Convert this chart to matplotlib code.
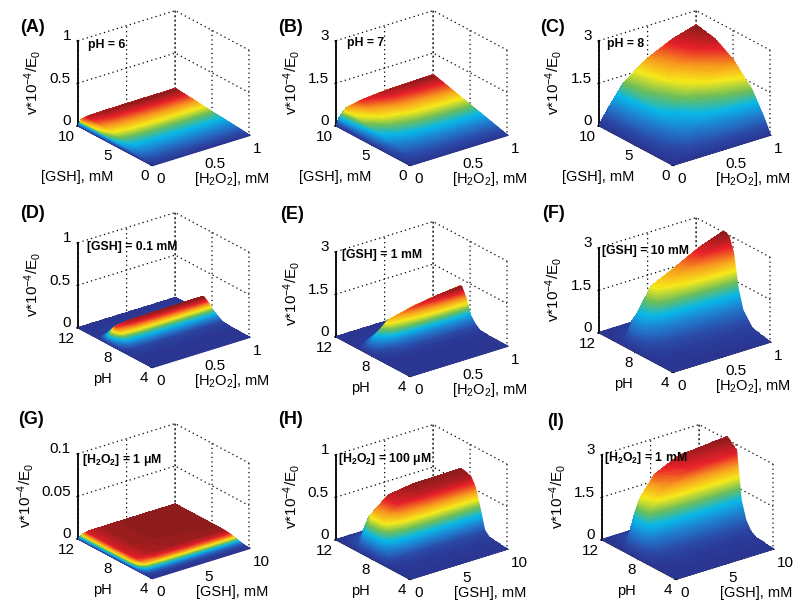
import numpy as np
import matplotlib
matplotlib.use('Agg')
import matplotlib.pyplot as plt
from matplotlib.colors import LinearSegmentedColormap
from mpl_toolkits.mplot3d import proj3d

plt.rcParams['font.family'] = ['Liberation Sans', 'DejaVu Sans']
plt.rcParams['mathtext.default'] = 'regular'

# node positions
h2o2 = [0, .03, .1, .25, .5, .75, 1]
gsh_row = [0, 1, 2.5, 5, 7.5, 10]
gsh_col = [0, .15, .5, 1, 2.5, 5, 10]
ph_a = [4, 6, 7, 7.5, 8, 8.5, 9, 9.5, 10, 12]
ph_g = [4, 4.5, 5, 5.5, 6, 6.5, 7, 9, 12]
ph_h = [4, 6, 6.5, 7, 7.5, 8, 9, 9.5, 10, 12]

z_a = [[0, 0, 0, 0, 0, 0, 0],
       [0, .007, .0087, .0091, .0093, .0094, .0094],
       [0, .016, .0205, .0213, .0218, .022, .022],
       [0, .031, .038, .040, .0405, .041, .041],
       [0, .048, .0595, .062, .0634, .064, .064],
       [0, .064, .079, .0825, .084, .085, .085]]
z_b = [[0, 0, 0, 0, 0, 0, 0],
       [0, .026, .052, .063, .070, .0725, .074],
       [0, .065, .13, .157, .176, .181, .185],
       [0, .13, .26, .315, .35, .363, .37],
       [0, .19, .39, .47, .527, .544, .555],
       [0, .26, .52, .63, .70, .725, .74]]
z_c = [[0, 0, 0, 0, 0, 0, 0],
       [0, .04, .12, .275, .41, .495, .55],
       [0, .09, .275, .60, .88, 1.08, 1.25],
       [0, .14, .42, .93, 1.36, 1.68, 1.95],
       [0, .17, .52, 1.14, 1.68, 2.06, 2.35],
       [0, .18, .55, 1.25, 1.85, 2.25, 2.5]]
z_d = [[0, 0, 0, 0, 0, 0, 0],
       [0, .001, .003, .003, .003, .003, .003],
       [0, .006, .013, .014, .015, .015, .015],
       [0, .02, .042, .047, .049, .05, .05],
       [0, .036, .077, .086, .088, .089, .09],
       [0, .06, .128, .143, .147, .149, .15],
       [0, .076, .162, .18, .186, .188, .19],
       [0, .04, .085, .095, .098, .099, .10],
       [0, .004, .009, .0095, .01, .01, .01],
       [0, 0, 0, 0, 0, 0, 0]]
z_e = [[0, 0, 0, 0, 0, 0, 0],
       [0, .002, .004, .009, .011, .012, .013],
       [0, .005, .013, .026, .032, .035, .038],
       [0, .02, .055, .11, .137, .153, .164],
       [0, .045, .126, .255, .315, .354, .378],
       [0, .108, .30, .61, .756, .85, .907],
       [0, .15, .42, .85, 1.05, 1.18, 1.26],
       [0, .09, .25, .51, .63, .71, .756],
       [0, .012, .034, .068, .084, .094, .10],
       [0, 0, 0, 0, 0, 0, 0]]
z_f = [[0, 0, 0, 0, 0, 0, 0],
       [0, .018, .053, .095, .115, .138, .153],
       [0, .07, .21, .38, .46, .55, .61],
       [0, .147, .44, .80, .966, 1.155, 1.28],
       [0, .28, .84, 1.52, 1.84, 2.2, 2.44],
       [0, .34, 1.02, 1.84, 2.23, 2.67, 2.96],
       [0, .35, 1.05, 1.9, 2.3, 2.75, 3.05],
       [0, .245, .735, 1.33, 1.61, 1.925, 2.135],
       [0, .07, .21, .38, .46, .55, .61],
       [0, 0, 0, 0, 0, 0, 0]]
z_g = [[0, 0, 0, 0, 0, 0, 0],
       [0, .00006, .00012, .00015, .00016, .00016, .000165],
       [0, .00039, .00077, .00099, .00107, .00109, .0011],
       [0, .00096, .00193, .00248, .00267, .00272, .00275],
       [0, .0015, .003, .00387, .00417, .00425, .0043],
       [0, .00177, .00354, .00455, .00491, .00501, .00506],
       [0, .00189, .00377, .00485, .00523, .00534, .00539],
       [0, .00193, .00385, .00495, .00534, .00545, .0055],
       [0, .00193, .00385, .00495, .00534, .00545, .0055]]
z_h = [[0, 0, 0, 0, 0, 0, 0],
       [0, .006, .013, .019, .024, .026, .026],
       [0, .018, .04, .056, .073, .078, .08],
       [0, .072, .158, .226, .293, .312, .317],
       [0, .12, .264, .376, .488, .52, .528],
       [0, .143, .314, .447, .58, .618, .627],
       [0, .15, .33, .47, .61, .65, .66],
       [0, .12, .264, .376, .488, .52, .528],
       [0, .038, .083, .118, .153, .163, .165],
       [0, 0, 0, 0, 0, 0, 0]]
z_i = [[0, 0, 0, 0, 0, 0, 0],
       [0, .01, .03, .055, .077, .089, .093],
       [0, .025, .07, .13, .18, .207, .217],
       [0, .056, .16, .296, .408, .472, .496],
       [0, .126, .36, .666, .918, 1.062, 1.116],
       [0, .315, .9, 1.665, 2.295, 2.655, 2.79],
       [0, .35, 1.0, 1.85, 2.55, 2.95, 3.1],
       [0, .245, .7, 1.295, 1.785, 2.065, 2.17],
       [0, .07, .2, .37, .51, .59, .62],
       [0, 0, 0, 0, 0, 0, 0]]

letters = ['(A)', '(B)', '(C)', '(D)', '(E)', '(F)', '(G)', '(H)', '(I)']
notes = ['pH = 6', 'pH = 7', 'pH = 8',
         '[GSH] = 0.1 mM', '[GSH] = 1 mM', '[GSH] = 10 mM',
         '[H$_2$O$_2$] = 1 \u03bcM', '[H$_2$O$_2$] = 100 \u03bcM', '[H$_2$O$_2$] = 1 mM']
surfaces = [z_a, z_b, z_c, z_d, z_e, z_f, z_g, z_h, z_i]
xnodes = [h2o2] * 6 + [gsh_col] * 3
ynodes = [gsh_row] * 3 + [ph_a] * 3 + [ph_g, ph_h, ph_h]
zticks = [[0, .5, 1], [0, 1.5, 3], [0, 1.5, 3],
          [0, .5, 1], [0, 1.5, 3], [0, 1.5, 3],
          [0, .05, .1], [0, .5, 1], [0, 1.5, 3]]
zticklabels = [['0', '0.5', '1'], ['0', '1.5', '3'], ['0', '1.5', '3'],
               ['0', '0.5', '1'], ['0', '1.5', '3'], ['0', '1.5', '3'],
               ['0', '0.05', '0.1'], ['0', '0.5', '1'], ['0', '1.5', '3']]
xlabels = ['[H$_2$O$_2$], mM'] * 6 + ['[GSH], mM'] * 3
ylabels = ['[GSH], mM'] * 3 + ['pH'] * 6

# pixel positions on the 800x607 page
origins = [(152, 165), (410, 165), (673, 165),
           (152, 367), (410, 376), (673, 372),
           (152, 578), (410, 579), (676, 579)]
letter_pos = [(20, 27), (278, 27), (540, 27),
              (20, 214), (280, 215), (542, 214),
              (18, 420), (278, 420), (547, 421)]
note_pos = [(88, 45), (347, 43), (607, 44),
            (87, 247), (342, 255), (602, 251),
            (82, 460), (338, 459), (604, 458)]

jet = LinearSegmentedColormap.from_list('printjet', [
    (0, '#2a3590'), (.11, '#2b4aa8'), (.25, '#1f7fd0'), (.375, '#08b8e8'),
    (.5, '#6cbd5a'), (.625, '#f7ea1a'), (.75, '#f79a1e'), (.875, '#e8202a'),
    (1, '#8c1c1c')])

W, H = 800, 607
fig = plt.figure(figsize=(W / 100, H / 100), dpi=100)
dots = (0, (1, 2.6))


def to_px(ax, x, y, z):
    ax.apply_aspect()
    px, py, _ = proj3d.proj_transform(x, y, z, ax.get_proj())
    return ax.transData.transform((px, py))


def page_text(x, y, s, **kw):
    fig.text(x / W, 1 - y / H, s, va='center', **kw)


for i in range(9):
    xs = np.array(xnodes[i], float)
    ys = np.array(ynodes[i], float)
    zz = np.array(surfaces[i], float)
    X, Y = np.meshgrid(xs, ys)

    ax = fig.add_axes([0, 0, 300 / W, 300 / H], projection='3d', proj_type='ortho',
                      computed_zorder=False)
    ax.patch.set_alpha(0)
    ax.view_init(elev=24, azim=232.7)
    ax.set_box_aspect((1, 1, .762))

    # coarse surface underneath so no white shows between the bands
    ax.plot_surface(X, Y, zz, cmap=jet, vmin=0, vmax=zz.max(), shade=False, linewidth=0,
                    antialiased=False, zorder=1)

    # one filled band per colour, lowest first, so higher bands hide what is behind
    levels = np.linspace(0, zz.max() * 1.0001, 65)
    for k in range(64):
        col = jet((k + .5) / 64)
        cs = ax.contourf(X, Y, zz, levels=levels[k:k + 2], colors=[col], zorder=k + 2)
        cs.set_edgecolor(col)
        cs.set_linewidth(1.1)
        cs.set_zorder(k + 2)

    ax.set_xlim(xs[0], xs[-1])
    ax.set_ylim(ys[0], ys[-1])
    ax.set_zlim(zticks[i][0], zticks[i][-1])
    ax.set_xticks([xs[0], (xs[0] + xs[-1]) / 2, xs[-1]])
    ax.set_yticks([ys[0], (ys[0] + ys[-1]) / 2, ys[-1]])
    ax.set_zticks(zticks[i])
    ax.set_zticklabels(zticklabels[i], ha='right', va='baseline')
    if xs[-1] == 1:
        ax.set_xticklabels(['0', '0.5', '1'], ha='left')
    else:
        ax.set_xticklabels(['0', '5', '10'], ha='left')
    if ys[-1] == 10:
        ax.set_yticklabels(['0', '5', '10'], ha='right')
    else:
        ax.set_yticklabels(['4', '8', '12'], ha='right')
    ax.tick_params(labelsize=11)
    ax.tick_params(axis='x', pad=-4)
    ax.tick_params(axis='y', pad=-5.5)
    ax.tick_params(axis='z', pad=-5)

    for axis in (ax.xaxis, ax.yaxis, ax.zaxis):
        axis.set_pane_color((1, 1, 1, 0))
        axis.pane.set_edgecolor('k')
        axis.pane.set_linestyle(dots)
        axis.pane.set_linewidth(.9)
        axis.line.set_color('k')
        axis.line.set_linewidth(1.3)
        axis._axinfo['grid'].update(color='k', linestyle=dots, linewidth=.9)
        axis._axinfo['tick'].update(inward_factor=.15, outward_factor=0, linewidth={True: .8, False: .5})

    # scale the box so the x edge spans 97 px, then move the front corner to its place
    a = to_px(ax, xs[0], ys[0], zticks[i][0])
    b = to_px(ax, xs[-1], ys[0], zticks[i][0])
    side = 300 * 97 / abs(b[0] - a[0])
    ax.set_position([0, 0, side / W, side / H])
    a = to_px(ax, xs[0], ys[0], zticks[i][0])
    ox, oy = origins[i]
    ax.set_position([(ox - a[0]) / W, (H - oy - a[1]) / H, side / W, side / H])

    # axis titles sit at fixed offsets from the front corner
    page_text(ox + 80, oy + 14, xlabels[i], fontsize=10.5, ha='center')
    dy_x = -75 if ylabels[i] != 'pH' else -50
    page_text(ox + dy_x, oy + 12, ylabels[i], fontsize=10.5, ha='center')
    page_text(ox + (-127 if i == 6 else -119), oy - 83, 'v*10$^{-4}$/E$_0$', fontsize=11,
              ha='center', rotation=90)

    page_text(letter_pos[i][0], letter_pos[i][1], letters[i], fontsize=13,
              fontweight='bold', ha='left')
    page_text(note_pos[i][0], note_pos[i][1], notes[i], fontsize=8.8,
              fontweight='bold', ha='left', zorder=200)

plt.savefig('out.png', dpi=100)
